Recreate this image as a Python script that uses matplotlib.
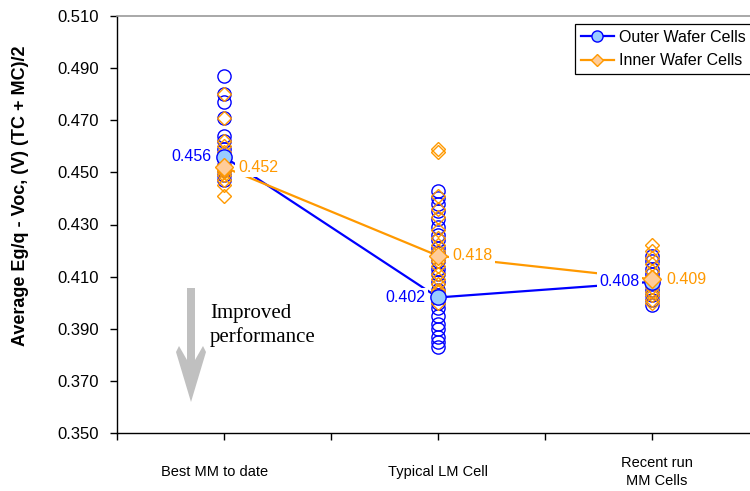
import matplotlib
matplotlib.use("Agg")
import matplotlib.pyplot as plt
from matplotlib.lines import Line2D
from matplotlib.patches import Polygon
from matplotlib.transforms import blended_transform_factory, offset_copy

plt.rcParams['font.family'] = ['Liberation Sans', 'DejaVu Sans']

categories = ["Best MM to date", "Typical LM Cell", "Recent run\nMM Cells"]
cat_x = [1, 2, 3]

outer_best = [0.487, 0.480, 0.477, 0.471, 0.464, 0.462, 0.459, 0.455, 0.453, 0.451, 0.449, 0.447]
inner_best = [0.480, 0.471, 0.462, 0.460, 0.458, 0.455, 0.453, 0.451, 0.450, 0.449, 0.447, 0.445, 0.441]

outer_lm = [0.443, 0.440, 0.438, 0.435, 0.432, 0.429, 0.426, 0.424, 0.421, 0.419, 0.416, 0.413,
            0.411, 0.408, 0.405, 0.403, 0.400, 0.398, 0.395, 0.392, 0.390, 0.387, 0.385, 0.383]
inner_lm = [0.459, 0.458, 0.441, 0.436, 0.433, 0.428, 0.425, 0.422, 0.420, 0.416, 0.414, 0.411,
            0.409, 0.407, 0.405, 0.404, 0.402, 0.400]

outer_recent = [0.418, 0.416, 0.413, 0.411, 0.409, 0.407, 0.405, 0.403, 0.401, 0.399]
inner_recent = [0.422, 0.420, 0.417, 0.415, 0.412, 0.410, 0.408, 0.406, 0.404, 0.403, 0.401, 0.400]

outer_mean = [0.456, 0.402, 0.408]
inner_mean = [0.452, 0.418, 0.409]

outer_groups = [outer_best, outer_lm, outer_recent]
inner_groups = [inner_best, inner_lm, inner_recent]

yticks = [0.350, 0.370, 0.390, 0.410, 0.430, 0.450, 0.470, 0.490, 0.510]

BLUE = "#0000FF"
ORANGE = "#FF9900"
LBLUE = "#99CCFF"
LORANGE = "#FFCC99"

W, H = 750, 491
fig = plt.figure(figsize=(7.5, 4.91), dpi=100)
ax = fig.add_axes([117 / W, 1 - 433 / H, (759 - 117) / W, (433 - 16) / H])

# mean lines
ax.plot(cat_x, outer_mean, color=BLUE, lw=1.6, zorder=2)
ax.plot(cat_x, inner_mean, color=ORANGE, lw=1.6, zorder=2)

# individual cells
for x, grp in zip(cat_x, outer_groups):
    ax.plot([x] * len(grp), grp, ls='none', marker='o', ms=9.5, mfc='none',
            mec=BLUE, mew=1.0, zorder=3)
for x, grp in zip(cat_x, inner_groups):
    ax.plot([x] * len(grp), grp, ls='none', marker='D', ms=6.8, mfc='none',
            mec=ORANGE, mew=1.0, zorder=4)

# mean markers
ax.plot(cat_x, outer_mean, ls='none', marker='o', ms=11, mfc=LBLUE, mec=BLUE, mew=1.0, zorder=5)
ax.plot(cat_x, inner_mean, ls='none', marker='D', ms=9, mfc=LORANGE, mec=ORANGE, mew=1.0, zorder=6)

# value labels
bb = dict(boxstyle='square,pad=0.15', fc='white', ec='none')
for x, v in zip(cat_x, outer_mean):
    ax.annotate(f"{v:.3f}", (x, v), xytext=(-9, 0), textcoords='offset points',
                ha='right', va='center', color=BLUE, fontsize=11.5, bbox=bb, zorder=7)
for x, v in zip(cat_x, inner_mean):
    ax.annotate(f"{v:.3f}", (x, v), xytext=(10, 0), textcoords='offset points',
                ha='left', va='center', color=ORANGE, fontsize=11.5, bbox=bb, zorder=7)

ax.set_xlim(0.5, 3.5)
ax.set_ylim(0.350, 0.510)
ax.set_xticks([0.5, 1, 1.5, 2, 2.5, 3, 3.5])
ax.set_xticklabels([])
ax.set_yticks(yticks)
ax.set_yticklabels([f"{t:.3f}" for t in yticks], fontsize=12)
ax.tick_params(axis='both', direction='out', length=5, width=1, color='black')
ax.tick_params(axis='y', pad=8)

for s in ['left', 'bottom']:
    ax.spines[s].set_color('black')
    ax.spines[s].set_linewidth(1.0)
ax.spines['top'].set_color('#999999')
ax.spines['top'].set_linewidth(1.2)
ax.spines['right'].set_visible(False)

trans = blended_transform_factory(ax.transData, ax.transAxes)
label_shift_px = [-9, 0, 5]
for x, c, dx in zip(cat_x, categories, label_shift_px):
    t = offset_copy(trans, fig=fig, x=dx * 72 / 100, y=0, units='points')
    ax.text(x, (433 - 472) / 417, c, transform=t, ha='center', va='center',
            fontsize=10.5, linespacing=1.3)

fig.text(21 / W, 1 - 196 / H, "Average Eg/q - Voc, (V) (TC + MC)/2", rotation=90,
         ha='center', va='center', fontsize=13, fontweight='bold')

# arrow
pts = [(187, 288), (195, 288), (195, 360), (203, 346), (206, 352), (191, 402),
       (176, 352), (179, 346), (187, 360)]
fig.patches.append(Polygon([(x / W, 1 - y / H) for x, y in pts], closed=True,
                           transform=fig.transFigure, fc='#C0C0C0', ec='none'))
fig.text(210 / W, 1 - 318 / H, "Improved", family=['Liberation Serif'], fontsize=15,
         va='baseline', ha='left')
fig.text(210 / W, 1 - 342 / H, "performance", family=['Liberation Serif'], fontsize=15,
         va='baseline', ha='left')

handles = [Line2D([], [], color=BLUE, lw=1.6, marker='o', ms=8, mfc=LBLUE, mec=BLUE),
           Line2D([], [], color=ORANGE, lw=1.6, marker='D', ms=6.5, mfc=LORANGE, mec=ORANGE)]
leg = fig.legend(handles, ["Outer Wafer Cells", "Inner Wafer Cells"], loc='upper left',
                 bbox_to_anchor=(575 / W, 1 - 24 / H), bbox_transform=fig.transFigure,
                 borderaxespad=0, fontsize=11.5, frameon=True, fancybox=False,
                 edgecolor='black', framealpha=1, borderpad=0.35, labelspacing=0.55,
                 handlelength=2.1, handletextpad=0.3)
leg.get_frame().set_linewidth(0.9)

fig.savefig("out.png", dpi=100)
